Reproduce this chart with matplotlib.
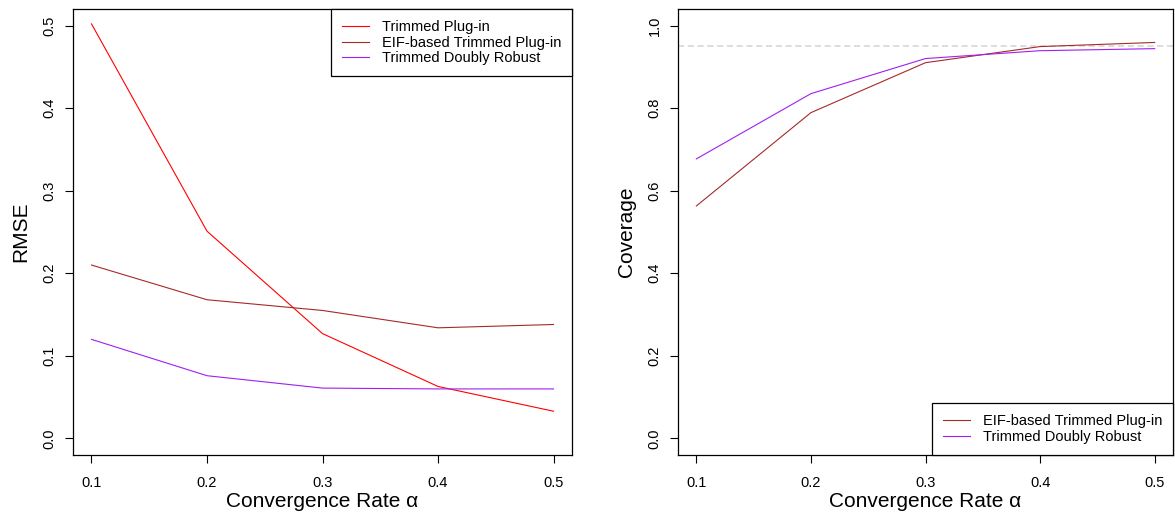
import matplotlib
matplotlib.use("Agg")
import matplotlib.pyplot as plt

plt.rcParams['font.family'] = ['Liberation Sans', 'DejaVu Sans']

alpha = [0.1, 0.2, 0.3, 0.4, 0.5]
xticks = [0.1, 0.2, 0.3, 0.4, 0.5]

rmse_plugin = [0.502, 0.251, 0.127, 0.063, 0.033]
rmse_eif = [0.210, 0.168, 0.155, 0.134, 0.138]
rmse_dr = [0.120, 0.076, 0.061, 0.060, 0.060]

cov_eif = [0.563, 0.789, 0.910, 0.949, 0.959]
cov_dr = [0.677, 0.835, 0.920, 0.939, 0.944]
cov_target = 0.95

rmse_yticks = [0.0, 0.1, 0.2, 0.3, 0.4, 0.5]
cov_yticks = [0.0, 0.2, 0.4, 0.6, 0.8, 1.0]

RED = '#FF0000'
BROWN = '#A52A2A'
PURPLE = '#A020F0'

fig = plt.figure(figsize=(11.75, 5.12), dpi=100)
ax1 = fig.add_axes([73/1175, 57/512, 499/1175, 446/512])
ax2 = fig.add_axes([678/1175, 57/512, 495/1175, 446/512])


def r_style(ax, yticks, ylabel):
    # R's default 4% axis extension
    lo, hi = 0.1, 0.5
    ext = (hi - lo) * 0.04
    ax.set_xlim(lo - ext, hi + ext)
    ylo, yhi = yticks[0], yticks[-1]
    yext = (yhi - ylo) * 0.04
    ax.set_ylim(ylo - yext, yhi + yext)
    ax.set_xticks(xticks)
    ax.set_xticklabels([f'{v:.1f}' for v in xticks])
    ax.set_yticks(yticks)
    ax.set_yticklabels([f'{v:.1f}' for v in yticks], rotation=90, va='center')
    ax.tick_params(direction='out', length=5.8, width=0.8, labelsize=10.5)
    ax.tick_params(axis='x', pad=9.5)
    ax.tick_params(axis='y', pad=6)
    for s in ax.spines.values():
        s.set_linewidth(0.9)
    ax.set_xlabel('Convergence Rate α', fontsize=15)
    ax.set_ylabel(ylabel, fontsize=15)
    ax.xaxis.set_label_coords(0.5, -0.082)
    ax.yaxis.set_label_coords(-0.085, 0.5)


leg_kw = dict(borderaxespad=0, fancybox=False, edgecolor='black',
              framealpha=1, fontsize=10.5, handlelength=1.85,
              handletextpad=0.9, labelspacing=0.12, borderpad=0.75)

ax1.plot(alpha, rmse_plugin, color=RED, lw=0.8, label='Trimmed Plug-in')
ax1.plot(alpha, rmse_eif, color=BROWN, lw=0.8, label='EIF-based Trimmed Plug-in')
ax1.plot(alpha, rmse_dr, color=PURPLE, lw=0.8, label='Trimmed Doubly Robust')
r_style(ax1, rmse_yticks, 'RMSE')
leg1 = ax1.legend(loc='upper right', **leg_kw)
leg1.get_frame().set_linewidth(0.9)

ax2.axhline(cov_target, color='#D3D3D3', lw=1.1, ls=(0, (4.0, 2.4)))
ax2.plot(alpha, cov_eif, color=BROWN, lw=0.8, label='EIF-based Trimmed Plug-in')
ax2.plot(alpha, cov_dr, color=PURPLE, lw=0.8, label='Trimmed Doubly Robust')
r_style(ax2, cov_yticks, 'Coverage')
leg2 = ax2.legend(loc='lower right', **leg_kw)
leg2.get_frame().set_linewidth(0.9)

fig.savefig('out.png', dpi=100)
